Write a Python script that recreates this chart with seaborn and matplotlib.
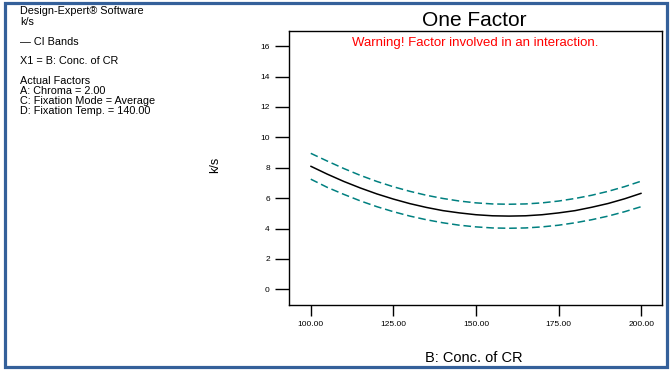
import matplotlib
matplotlib.use("Agg")
import matplotlib.pyplot as plt
import matplotlib.patches as patches
import seaborn as sns
import pandas as pd

# Data
conc = [100, 105, 110, 115, 120, 125, 130, 135, 140, 145, 150,
        155, 160, 165, 170, 175, 180, 185, 190, 195, 200]
ks_mean = [8.10, 7.58, 7.10, 6.67, 6.28, 5.94, 5.64, 5.39, 5.18, 5.03, 4.91,
           4.84, 4.82, 4.84, 4.91, 5.03, 5.18, 5.40, 5.65, 5.96, 6.32]
ks_upper = [8.95, 8.44, 7.95, 7.50, 7.10, 6.75, 6.45, 6.19, 5.98, 5.81, 5.69,
            5.62, 5.60, 5.62, 5.69, 5.81, 5.98, 6.19, 6.45, 6.76, 7.12]
ks_lower = [7.25, 6.71, 6.25, 5.82, 5.44, 5.11, 4.82, 4.58, 4.38, 4.22, 4.11,
            4.04, 4.02, 4.04, 4.11, 4.22, 4.38, 4.58, 4.82, 5.11, 5.44]
x_ticks = [100, 125, 150, 175, 200]
x_ticklabels = ["100.00", "125.00", "150.00", "175.00", "200.00"]
y_ticks = [0, 2, 4, 6, 8, 10, 12, 14, 16]

sns.set_style("ticks")
plt.rcParams['font.family'] = ['Liberation Sans', 'DejaVu Sans']

W, H = 671, 370
fig = plt.figure(figsize=(W / 100, H / 100), dpi=100)
ax = fig.add_axes([289.3 / W, 1 - 305.3 / H, (662 - 289.3) / W, (305.3 - 31) / H])

df = pd.DataFrame({"x": conc, "mean": ks_mean, "upper": ks_upper, "lower": ks_lower})
sns.lineplot(data=df, x="x", y="mean", ax=ax, color="black", linewidth=1.1)
sns.lineplot(data=df, x="x", y="upper", ax=ax, color="#008080", linewidth=1.1,
             linestyle=(0, (5, 2.5)))
sns.lineplot(data=df, x="x", y="lower", ax=ax, color="#008080", linewidth=1.1,
             linestyle=(0, (5, 2.5)))

ax.set_xlim(93.5, 206.3)
ax.set_ylim(-1.05, 17.0)
ax.set_xticks(x_ticks)
ax.set_xticklabels(x_ticklabels)
ax.set_yticks(y_ticks)
ax.tick_params(axis='x', direction='out', length=8, width=1, labelsize=6, pad=3, colors='black')
ax.tick_params(axis='y', direction='out', length=10, width=1, labelsize=6, pad=4, colors='black')
for s in ax.spines.values():
    s.set_visible(True)
    s.set_color('black')
    s.set_linewidth(1)
ax.set_xlabel("")
ax.set_ylabel("")

def px(x, y):
    return x / W, 1 - y / H

# Left info panel
left_lines = [
    ("Design-Expert\u00ae Software", 11.5),
    ("k/s", 22),
    ("\u2014 CI Bands", 42),
    ("X1 = B: Conc. of CR", 61),
    ("Actual Factors", 81),
    ("A: Chroma = 2.00", 91),
    ("C: Fixation Mode = Average", 101),
    ("D: Fixation Temp. = 140.00", 111),
]
for txt, yy in left_lines:
    fig.text(*px(20, yy), txt, fontsize=7.8, va='center', ha='left', color='black')

fig.text(*px(474, 20), "One Factor", fontsize=15, ha='center', va='center', color='black')
fig.text(*px(475, 43), "Warning! Factor involved in an interaction.", fontsize=9.5,
         ha='center', va='center', color='red')
fig.text(*px(215, 165), "k/s", fontsize=9, ha='center', va='center', rotation=90, color='black')
fig.text(*px(474, 358), "B: Conc. of CR", fontsize=10.5, ha='center', va='center', color='black')

# Border frame
x0, y0, x1, y1 = 4.7, 2.5, 666.7, 366.5
rect = patches.Rectangle((x0 / W, 1 - y1 / H), (x1 - x0) / W, (y1 - y0) / H,
                         transform=fig.transFigure, fill=False, edgecolor='#34609a',
                         linewidth=2.3)
fig.patches.append(rect)

fig.savefig("out.png", dpi=100)
